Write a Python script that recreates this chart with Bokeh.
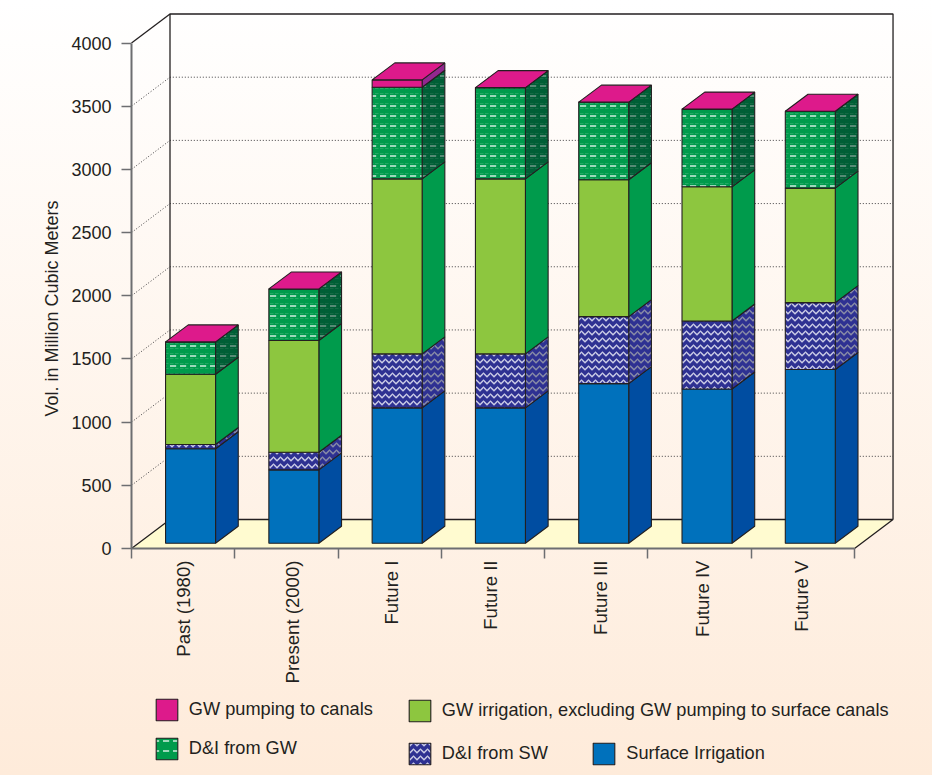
from math import pi
import numpy as np
from bokeh.plotting import figure
from bokeh.embed import file_html
from bokeh.resources import INLINE
from bokeh.core.properties import value
from bokeh.models import (Range1d, LinearAxis, FixedTicker, Legend, LegendItem, Label,
                          ColumnDataSource)

scenarios = ["Past (1980)", "Present (2000)", "Future I", "Future II", "Future III", "Future IV", "Future V"]
surface_irrigation = [747, 580, 1071, 1071, 1263, 1220, 1374]
di_from_sw = [34, 140, 427, 427, 530, 538, 530]
gw_irrigation = [556, 884, 1385, 1385, 1083, 1062, 906]
di_from_gw = [256, 408, 725, 722, 614, 615, 608]
gw_pumping = [0, 0, 58, 0, 0, 0, 0]

series_labels = ["Surface Irrigation", "D&I from SW",
                 "GW irrigation, excluding GW pumping to surface canals",
                 "D&I from GW", "GW pumping to canals"]
value_ticks = [0, 500, 1000, 1500, 2000, 2500, 3000, 3500, 4000]
label_nudge = [0.0, 0.055, 0.02, -0.02, 0.04, 0.03, -0.01]

INK = "#231F20"
AXIS = "#6D6E71"
FONT = "Liberation Sans"

# Page layout: the frame fills the page, with data (0, 0) at the front axis corner
WIDTH, HEIGHT = 932, 775
PX_X = 103.29
PX_Y = 505.5 / 4000
CORNER_X, CORNER_Y = 131, 548

# Oblique projection of the box and the bars
WALL_DX, WALL_DY = 38.5 / PX_X, 29 / PX_Y
BAR_DX, BAR_DY = 22.7 / PX_X, 17 / PX_Y
SET_DX, SET_DY = 7 / PX_X, 5.3 / PX_Y
BAR_MARGIN, BAR_W = 0.262, 0.484
N = len(scenarios)

p = figure(width=WIDTH, height=HEIGHT, output_backend="svg", toolbar_location=None,
           x_range=Range1d(-CORNER_X / PX_X, (WIDTH - CORNER_X) / PX_X),
           y_range=Range1d(-(HEIGHT - CORNER_Y) / PX_Y, CORNER_Y / PX_Y),
           x_axis_location=None, y_axis_location=None,
           min_border=0, outline_line_color=None,
           background_fill_color=None, border_fill_color=None,
           styles={"background": "linear-gradient(#FFFFFF 0%, #FEEBDA 100%)"})
p.grid.visible = False

# Floor
p.patch([0, WALL_DX, N + WALL_DX, N], [0, WALL_DY, WALL_DY, 0], fill_color="#FFFBD0", line_color=None)

# Dotted gridlines on the left wall and the back wall
grid_values = value_ticks[1:-1]
p.multi_line([[0, WALL_DX, N + WALL_DX] for _ in grid_values],
             [[v, v + WALL_DY, v + WALL_DY] for v in grid_values],
             line_color="#414042", line_width=1, line_dash="1 2")

# Outline of the box
p.line([WALL_DX, WALL_DX, N + WALL_DX, N + WALL_DX],
       [WALL_DY, 4000 + WALL_DY, 4000 + WALL_DY, WALL_DY], line_color=INK, line_width=1.3)
p.line([0, WALL_DX], [4000, 4000 + WALL_DY], line_color=INK, line_width=1.3)
p.line([0, WALL_DX, N + WALL_DX, N], [0, WALL_DY, WALL_DY, 0], line_color=INK, line_width=1.3)

# Bars: stacked front faces, right-hand side faces, and a lid on the top of each stack
stack = [surface_irrigation, di_from_sw, gw_irrigation, di_from_gw, gw_pumping]
face_colors = ["#0071BC", "#2E3192", "#8DC63F", "#009B4C", "#DD1A8B"]
side_colors = ["#004DA1", "#2E3192", "#009B4C", "#005F36", "#92278F"]
patterns = [None, "horizontal_wave", None, "horizontal_dash", None]
pattern_scale = [None, 7, None, 10, None]
FINE_DASH_SCALE = 5


def hatch_args(pattern, scale, color, alpha, weight):
    if pattern is None:
        return {}
    return dict(hatch_pattern=value(pattern), hatch_scale=scale, hatch_color=color,
                hatch_alpha=alpha, hatch_weight=weight)


lefts = np.arange(N) + BAR_MARGIN + SET_DX
rights = lefts + BAR_W
base = np.zeros(N) + SET_DY
front_renderers = []
for values, face, side, pattern, scale in zip(stack, face_colors, side_colors, patterns, pattern_scale):
    tops = base + np.array(values, dtype=float)
    xs = [[r, r + BAR_DX, r + BAR_DX, r] for r in rights]
    ys = [[b, b + BAR_DY, t + BAR_DY, t] for b, t in zip(base, tops)]
    src = ColumnDataSource(dict(left=lefts, right=rights, bottom=base, top=tops))
    quad_args = dict(left="left", right="right", bottom="bottom", top="top", source=src)
    if pattern == "horizontal_dash":
        # A faint, finer dash layer lies under the bright rows
        p.patches(xs, ys, fill_color=side, line_color=None,
                  **hatch_args(pattern, FINE_DASH_SCALE, "#BCBEC0", 0.16, 0.7))
        p.patches(xs, ys, fill_color=None, line_color=INK, line_width=1.1,
                  **hatch_args(pattern, scale, "#BCBEC0", 0.7, 1.3))
        p.quad(fill_color=face, line_color=None,
               **hatch_args(pattern, FINE_DASH_SCALE, "white", 0.2, 0.7), **quad_args)
        p.quad(fill_color=None, line_color=INK, line_width=1.1,
               **hatch_args(pattern, scale, "white", 0.95, 1.3), **quad_args)
        # Hidden renderer that gives the legend swatch its fill, hatch and outline together
        r = p.quad(fill_color=face, line_color=INK, line_width=1.1, visible=False,
                   **hatch_args(pattern, scale, "white", 0.95, 1.3), **quad_args)
    else:
        p.patches(xs, ys, fill_color=side, line_color=INK, line_width=1.1,
                  **hatch_args(pattern, scale, "#A7A9AC", 0.75, 1.5))
        r = p.quad(fill_color=face, line_color=INK, line_width=1.1,
                   **hatch_args(pattern, scale, "#E6E7F5", 0.85, 1.5), **quad_args)
    front_renderers.append(r)
    base = tops

p.patches([[l, r, r + BAR_DX, l + BAR_DX] for l, r in zip(lefts, rights)],
          [[t, t, t + BAR_DY, t + BAR_DY] for t in base],
          fill_color=face_colors[-1], line_color=INK, line_width=1.1)

# Axes sit on the front edge of the box
y_axis = LinearAxis(ticker=FixedTicker(ticks=value_ticks), bounds=(0, 4000), fixed_location=0,
                    axis_line_color=AXIS, axis_line_width=2,
                    major_tick_line_color=AXIS, major_tick_line_width=1.5,
                    major_tick_in=0, major_tick_out=10, minor_tick_line_color=None,
                    major_label_standoff=10, major_label_text_font=FONT,
                    major_label_text_font_size="18px", major_label_text_color=INK)
p.add_layout(y_axis, "left")

label_ticks = [i + 0.5 + label_nudge[i] for i in range(N)]
x_axis = LinearAxis(ticker=FixedTicker(ticks=label_ticks, minor_ticks=list(range(N + 1))), bounds=(0, N),
                    fixed_location=0,
                    major_label_overrides={t: s for t, s in zip(label_ticks, scenarios)},
                    axis_line_color=AXIS, axis_line_width=2,
                    major_tick_line_color=None, major_tick_in=0, major_tick_out=0,
                    minor_tick_line_color=AXIS, minor_tick_line_width=1.5,
                    minor_tick_in=0, minor_tick_out=10,
                    major_label_orientation=pi / 2, major_label_standoff=2,
                    major_label_text_font=FONT, major_label_text_font_size="18.6px",
                    major_label_text_color=INK)
p.add_layout(x_axis, "below")

p.add_layout(Label(x=(51 - CORNER_X) / PX_X, y=(CORNER_Y - 308) / PX_Y, text="Vol. in Million Cubic Meters",
                   angle=pi / 2, text_align="center", text_baseline="middle",
                   text_font=FONT, text_font_size="18px", text_color=INK))

# One legend per entry so that the entries can sit in their own rows and columns
SWATCH = 27
legend_spots = {4: (155.5, 698.5), 3: (155.5, 738), 2: (408.5, 700), 1: (408.5, 743), 0: (593, 742.5)}
for idx, (sx, sy) in legend_spots.items():
    legend = Legend(items=[LegendItem(label=series_labels[idx], renderers=[front_renderers[idx]])],
                    location=(sx - 2.7, HEIGHT - (sy - 2.7) - SWATCH),
                    background_fill_alpha=0, border_line_alpha=0, margin=0, padding=0,
                    glyph_width=SWATCH, glyph_height=SWATCH, label_height=SWATCH, label_standoff=9,
                    label_text_font=FONT, label_text_font_size="18.2px", label_text_color=INK)
    p.add_layout(legend)

open("out.html", "w").write(file_html(p, INLINE))
